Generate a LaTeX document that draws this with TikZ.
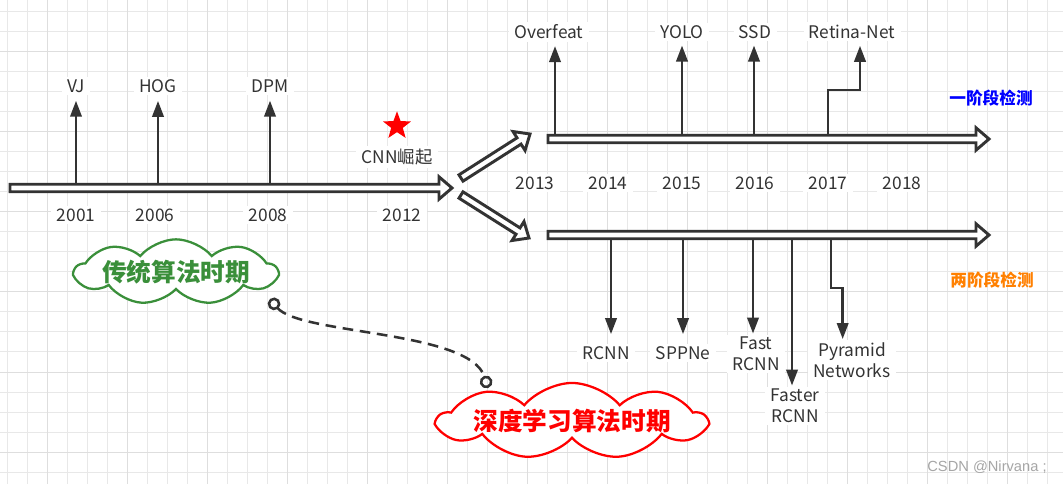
\documentclass[tikz,border=0pt]{standalone}
\usepackage{fontspec}
\setmainfont{Noto Sans CJK SC}
\newfontfamily\wmfont{Liberation Sans}
\usepackage{tikz}
\usetikzlibrary{calc}
\usetikzlibrary{arrows.meta}
\usetikzlibrary{shapes.symbols}
\usetikzlibrary{shapes.geometric}
\tikzset{>={Triangle[length=12pt,width=8.5pt]}}

\definecolor{ink}{HTML}{333333}
\definecolor{oldgreen}{HTML}{3A8F3A}
\definecolor{newred}{HTML}{FF0000}
\definecolor{onestage}{HTML}{0000FF}
\definecolor{twostage}{HTML}{FF8000}

\tikzset{
  gridline/.style={draw=black!9, line width=0.75pt},
  gridmajor/.style={draw=black!13, line width=0.75pt},
  hollow/.style={draw=ink, fill=white, line width=2.2pt, line join=miter},
  lbl/.style={fill=white, text=ink, font=\fontsize{13}{15.5}\selectfont,
    inner xsep=4pt, inner ysep=2pt, align=center},
  tick/.style={->, draw=ink, line width=2pt},
  period/.style={cloud, cloud puffs=9, cloud puff arc=100, cloud ignores aspect,
    fill=white, line width=1.7pt, inner sep=0pt, font=\bfseries\fontsize{18.5}{21}\selectfont},
  stage/.style={font=\bfseries\fontsize{12.5}{14}\selectfont},
  dashlink/.style={{Circle[open,length=9.5pt]}-{Circle[open,length=9.5pt]}, draw=ink,
    line width=1.9pt, dash pattern=on 8pt off 5pt}
}

% hollow block arrow from #1 to #2
\newcommand{\hollowarrow}[2]{%
  \coordinate (hb) at ($(#2)!9.75pt!(#1)$);
  \draw[hollow] ($(#1)!2.8pt!90:(#2)$) -- ($(hb)!2.8pt!-90:(#1)$)
    -- ($(hb)!8.4pt!-90:(#1)$) -- (#2) -- ($(hb)!8.4pt!90:(#1)$)
    -- ($(hb)!2.8pt!90:(#1)$) -- ($(#1)!2.8pt!-90:(#2)$) -- cycle;
}

\begin{document}
\begin{tikzpicture}[x=0.75pt,y=-0.75pt]
  \useasboundingbox (0,0) rectangle (1063,484);
  \fill[white] (0,0) rectangle (1063,484);

  % background grid
  \foreach \x in {7,27,...,1063} \draw[gridline] (\x,0) -- (\x,484);
  \foreach \y in {12,32,...,484} \draw[gridline] (0,\y) -- (1063,\y);
  \foreach \x in {47,127,...,1063} \draw[gridmajor] (\x,0) -- (\x,484);
  \foreach \y in {52,132,...,484} \draw[gridmajor] (0,\y) -- (1063,\y);

  % timelines
  \coordinate (t0) at (10,188);
  \coordinate (t1) at (452,188);
  \coordinate (u0) at (548,139);
  \coordinate (u1) at (989,139);
  \coordinate (d0) at (548,235);
  \coordinate (d1) at (989,235);
  \coordinate (s0) at (461,178);
  \coordinate (s1) at (530,134);
  \coordinate (r0) at (461,195);
  \coordinate (r1) at (529,238);
  \hollowarrow{t0}{t1}
  \hollowarrow{s0}{s1}
  \hollowarrow{r0}{r1}
  \hollowarrow{u0}{u1}
  \hollowarrow{d0}{d1}

  % traditional methods
  \foreach \nm/\xx/\tx in {vj/76/VJ, hog/158/HOG, dpm/270/DPM} {
    \node[lbl] (\nm) at (\xx,86) {\tx};
    \coordinate (\nm0) at (\xx,183);
    \draw[tick, shorten >=4pt] (\nm0) -- (\nm0 |- \nm.south);
  }
  \foreach \yr/\xx in {2001/76, 2006/155, 2008/268, 2012/402}
    \node[lbl] (y\yr) at (\xx,215) {\yr};

  \node[star, star points=5, star point ratio=2.4, fill=newred, minimum size=22pt,
    inner sep=0pt] (star) at (397,126) {};
  \node[lbl] (cnn) at (397,157) {CNN崛起};

  % one stage
  \foreach \nm/\xx/\lx/\tx in {ovf/555/549/Overfeat, yolo/682/682/YOLO, ssd/754/755/SSD} {
    \node[lbl] (\nm) at (\lx,32) {\tx};
    \coordinate (\nm0) at (\xx,134);
    \draw[tick, shorten >=3pt] (\nm0) -- (\nm0 |- \nm.south);
  }
  \node[lbl] (retina) at (852,32) {Retina-Net};
  \coordinate (retina0) at (828,134);
  \draw[tick, shorten >=3pt] (retina0) -- (828,90) -| ([xshift=6pt]retina.south);
  \foreach \yr/\xx in {2013/535, 2014/608, 2015/682, 2016/755, 2017/828, 2018/902}
    \node[lbl] (y\yr) at (\xx,183) {\yr};
  \node[stage, text=onestage] (one) at (991,98) {一阶段检测};

  % two stage
  \foreach \nm/\xx/\lx/\ly/\sh/\tx in {rcnn/611/606/353/7/RCNN, spp/683/683/353/7/SPPNe,
      fast/753/756/354/0.5/Fast\\RCNN, faster/792/795/406/0.5/Faster\\RCNN} {
    \node[lbl] (\nm) at (\lx,\ly) {\tx};
    \coordinate (\nm0) at (\xx,239);
    \draw[tick, shorten >=\sh pt] (\nm0) -- (\nm0 |- \nm.north);
  }
  \node[lbl] (pyr) at (852,360) {Pyramid\\Networks};
  \coordinate (pyr0) at (831,239);
  \draw[tick, shorten >=0.5pt] (pyr0) -- (831,288) -| ([xshift=-7pt]pyr.north);
  \node[stage, text=twostage] (two) at (992,280) {两阶段检测};

  % periods
  \node[period, draw=oldgreen, text=oldgreen, minimum width=118pt, minimum height=34pt]
    (old) at (176,272) {传统算法时期};
  \node[period, draw=newred, text=newred, minimum width=152pt, minimum height=38pt]
    (new) at (572,421) {深度学习算法时期};
  \draw[dashlink] ($(old.center)+(94,27)$) .. controls (300,335) and (470,330)
    .. ($(new.center)+(-84,-33)$);

  \node[text=black!35, font=\wmfont\fontsize{11}{13}\selectfont] (csdn) at (987,467)
    {CSDN @Nirvana ;};
\end{tikzpicture}
\end{document}
